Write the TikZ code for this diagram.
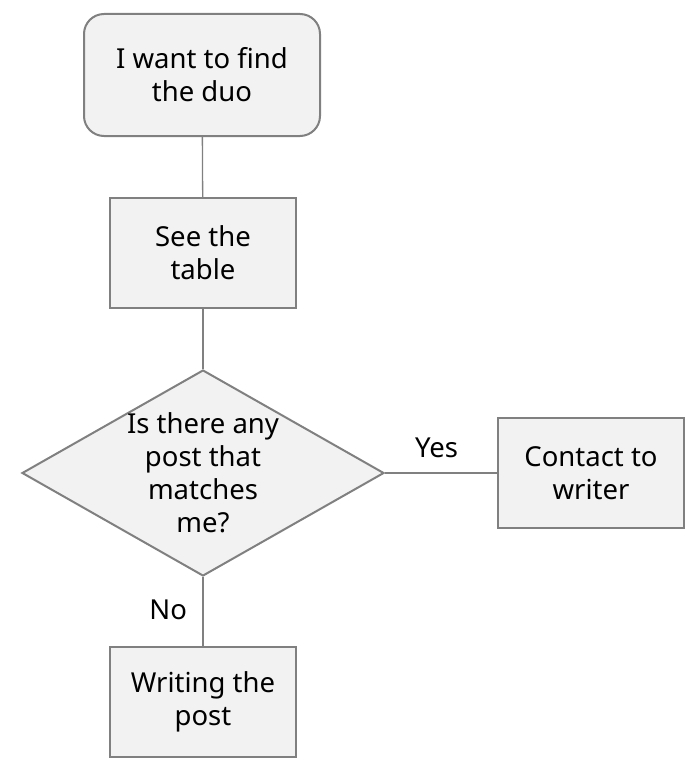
\documentclass[tikz,border=0pt]{standalone}
\usepackage{fontspec}
\setmainfont{Noto Sans}
\usepackage{tikz}
\usetikzlibrary{shapes,positioning,calc}
\definecolor{boxfill}{HTML}{F2F2F2}
\definecolor{boxline}{HTML}{808080}

\begin{document}
\begin{tikzpicture}[x=1pt,y=-1pt,
  every node/.style={font=\fontsize{27.5}{33}\selectfont, align=center},
  flowbox/.style={shape=rectangle, draw=boxline, fill=boxfill, line width=2pt, minimum width=186pt, minimum height=110pt, inner sep=0pt},
  startbox/.style={flowbox, rounded corners=20pt, minimum width=236pt, minimum height=122pt},
  decision/.style={shape=diamond, draw=boxline, fill=boxfill, line width=2pt, minimum width=362pt, minimum height=206pt, inner sep=0pt},
  link/.style={draw=boxline, line width=1.3pt}]
\useasboundingbox (0,0) rectangle (691,765);
\node[startbox] (start) at (202,75) {I want to find\\the duo};
\node[flowbox] (table) at (203,253) {See the\\table};
\node[decision, label={[align=center]center:Is there any\\post that\\matches\\me?}] (match) at (203,473) {};
\node[flowbox] (contact) at (591,473) {Contact to\\writer};
\node[flowbox] (write) at (203,702) {Writing the\\post};
\draw[link] (start) -- (table);
\draw[link] (table) -- (match);
\draw[link] (match) -- node[pos=0.46, above=11pt] {Yes} (contact);
\draw[link] (match) -- node[pos=0.48, left=12pt] {No} (write);
\end{tikzpicture}
\end{document}
